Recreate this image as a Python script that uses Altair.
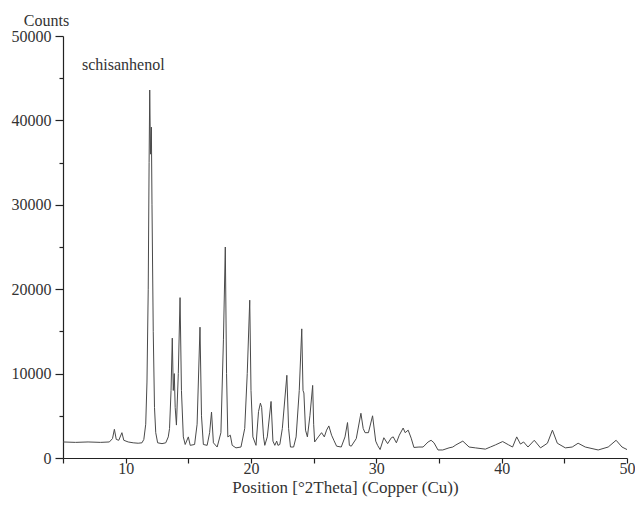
import altair as alt
import pandas as pd

theta = [5.0, 6.0, 7.0, 8.0, 8.7, 8.95, 9.1, 9.25, 9.45, 9.7, 9.85, 10.2, 10.6, 11.0, 11.3,
         11.45, 11.6, 11.7, 11.8, 11.87, 11.92, 11.98, 12.05, 12.1, 12.2, 12.3, 12.4, 12.55,
         12.9, 13.2, 13.4, 13.5, 13.62, 13.72, 13.8, 13.88, 13.95, 14.05, 14.2, 14.34, 14.45,
         14.6, 14.75, 15.0, 15.15, 15.5, 15.7, 15.93, 16.05, 16.2, 16.5, 16.7, 16.85, 17.0,
         17.3, 17.6, 17.8, 17.95, 18.05, 18.15, 18.35, 18.5, 18.8, 19.2, 19.5, 19.7, 19.9,
         20.0, 20.15, 20.4, 20.6, 20.75, 20.85, 21.0, 21.1, 21.3, 21.6, 21.75, 21.9, 22.05,
         22.15, 22.3, 22.5, 22.86, 23.0, 23.15, 23.4, 23.6, 23.85, 24.05, 24.15, 24.22, 24.35,
         24.5, 24.7, 24.92, 25.0, 25.08, 25.37, 25.63, 25.85, 26.03, 26.21, 26.43, 26.61,
         26.83, 27.2, 27.5, 27.7, 27.85, 28.0, 28.4, 28.77, 28.95, 29.1, 29.37, 29.7, 29.95,
         30.1, 30.3, 30.6, 30.9, 31.2, 31.35, 31.6, 31.83, 32.14, 32.3, 32.54, 32.78, 33.0,
         33.4, 33.73, 34.13, 34.37, 34.6, 34.92, 35.3, 35.8, 36.1, 36.35, 36.9, 37.4, 37.9,
         38.7, 39.1, 39.5, 40.08, 40.56, 40.87, 41.2, 41.5, 41.75, 42.1, 42.6, 43.1, 43.65,
         44.05, 44.44, 45.08, 45.63, 46.1, 46.67, 47.7, 48.5, 49.13, 49.6, 50.0]

counts = [1900, 1850, 1900, 1850, 1900, 2300, 3400, 2200, 2100, 3000, 2100, 1900, 1800, 1750, 1800,
          2200, 4000, 9000, 20000, 35000, 43600, 36000, 39200, 30000, 15000, 6000, 3000, 1800,
          1700, 1800, 2500, 3500, 8000, 14200, 8000, 10000, 6000, 3900, 10000, 19000, 8000,
          2500, 1600, 2500, 1500, 1600, 4000, 15500, 5000, 1600, 1500, 3000, 5450, 1800,
          1300, 3000, 14000, 25000, 10000, 2500, 2700, 1500, 1200, 1300, 3500, 10000, 18700,
          8000, 2500, 1500, 5500, 6500, 6000, 2500, 1500, 2500, 6700, 2000, 1500, 2000,
          1500, 1600, 3500, 9800, 3500, 1300, 1300, 2500, 8000, 15300, 8000, 7700, 3300,
          2500, 5000, 8600, 4000, 1900, 2500, 3000, 2500, 3300, 3800, 2700, 2100,
          1400, 1300, 2500, 4200, 1500, 1400, 2300, 5300, 3500, 3000, 3000, 5000, 2000,
          1500, 1000, 2400, 1700, 2400, 2500, 1800, 2700, 3550, 3000, 3300, 2350, 1250,
          1300, 1300, 1900, 2100, 1800, 950, 950, 1200, 1300, 1550, 2000, 1300, 1200,
          1050, 1300, 1550, 1950, 1550, 1300, 2500, 1650, 1900, 1300, 2100, 1200, 1750,
          3300, 1750, 1200, 1300, 1750, 1300, 950, 1300, 2100, 1300, 1000]

x_ticks = [5, 10, 15, 20, 25, 30, 35, 40, 45, 50]
y_ticks = list(range(0, 50001, 5000))

df = pd.DataFrame({"theta": theta, "counts": counts})

FONT = "Liberation Serif"
TXT = "#333333"

chart = alt.Chart(df).mark_line(color="#4a4a4a", strokeWidth=1).encode(
    x=alt.X("theta:Q",
            scale=alt.Scale(domain=[5, 50], nice=False, zero=False),
            axis=alt.Axis(values=x_ticks,
                          labelExpr="datum.value % 10 === 0 ? datum.label : ''",
                          title="Position [°2Theta] (Copper (Cu))",
                          grid=False, tickSize=5, labelPadding=-3,
                          labelFlush=False, labelOverlap=False,
                          titlePadding=3, titleFontSize=17)),
    y=alt.Y("counts:Q",
            scale=alt.Scale(domain=[0, 50000], nice=False),
            axis=alt.Axis(values=y_ticks, format="d",
                          labelExpr="datum.value % 10000 === 0 ? datum.label : ''",
                          tickSize={"condition": {"test": "datum.value % 10000 === 0", "value": 8}, "value": 4},
                          title="Counts", titleAngle=0, titleAlign="center",
                          titleBaseline="alphabetic", titleX=-17, titleY=-11,
                          grid=False, labelPadding=4,
                          labelFlush=False, labelOverlap=False)),
).properties(
    width=564,
    height=422,
    title=alt.TitleParams("schisanhenol", anchor="start", frame="group",
                          dx=19, dy=65, fontSize=16, font=FONT, fontWeight="normal",
                          color=TXT),
    autosize=alt.AutoSizeParams(type="none"),
    padding={"left": 55, "top": 28, "right": 8, "bottom": 40},
).configure_axis(
    labelFont=FONT, titleFont=FONT, labelFontSize=16, titleFontSize=16,
    labelColor=TXT, titleColor=TXT, titleFontWeight="normal",
    domainColor="#222222", tickColor="#222222", domainWidth=1.2, tickWidth=1.2,
).configure_view(stroke=None)

chart.save("out.html", embed_options={"renderer": "svg", "actions": False})
